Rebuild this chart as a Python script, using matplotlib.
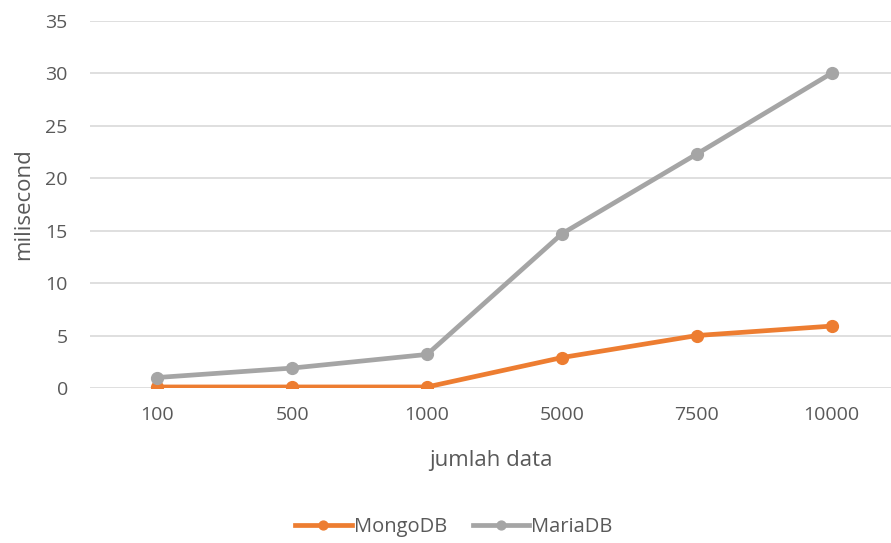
import numpy as np
import matplotlib.pyplot as plt

jumlah_data = ["100", "500", "1000", "5000", "7500", "10000"]
mongodb = [0.1, 0.1, 0.1, 2.9, 5.0, 5.9]
mariadb = [1.0, 1.9, 3.2, 14.7, 22.3, 30.0]

plt.rcParams['font.family'] = ['Open Sans', 'DejaVu Sans']
abu_teks = '#595959'

fig = plt.figure(figsize=(8.91, 5.43), dpi=100)
ax = fig.add_axes([90 / 891, 155 / 543, 801 / 891, (388 - 20.7) / 543])

x = np.arange(len(jumlah_data))
ax.plot(x, mongodb, color='#ED7D31', lw=3.4, marker='o', ms=8.5, label='MongoDB', zorder=3)
ax.plot(x, mariadb, color='#A5A5A5', lw=3.4, marker='o', ms=8.5, label='MariaDB', zorder=3)

ax.set_xlim(-0.5, 5.44)
ax.set_ylim(0, 35)
ax.set_yticks(np.arange(0, 36, 5))
ax.set_xticks(x)
ax.set_xticklabels(jumlah_data)
ax.grid(axis='y', color='#D9D9D9', lw=1.2)
ax.set_axisbelow(True)
for s in ax.spines.values():
    s.set_visible(False)
ax.tick_params(length=0, labelsize=14, colors=abu_teks)
ax.tick_params(axis='x', pad=13)
ax.tick_params(axis='y', pad=16)

ax.set_xlabel('jumlah data', fontsize=16, color=abu_teks, labelpad=19)
ax.set_ylabel('milisecond', fontsize=16, color=abu_teks, labelpad=8)

fig.legend(loc='center', bbox_to_anchor=(454 / 891, 1 - 527 / 543), ncol=2, frameon=False,
           fontsize=14.5, labelcolor=abu_teks, handlelength=2.8, columnspacing=1.3,
           handletextpad=0.1, markerscale=0.75)

plt.savefig('out.png', dpi=100)
